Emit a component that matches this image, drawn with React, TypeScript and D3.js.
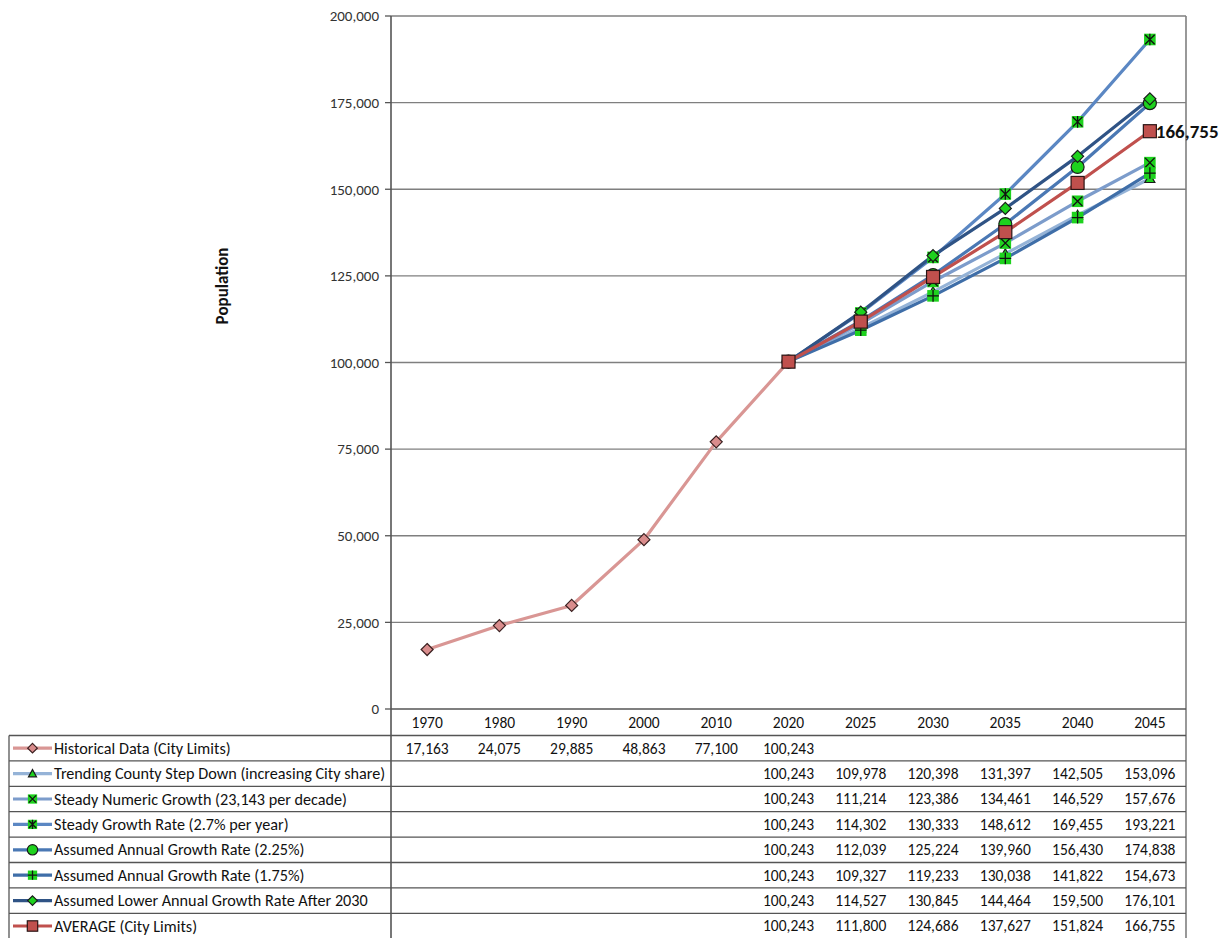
import React from 'react';
import * as d3 from 'd3';

const years = ['1970', '1980', '1990', '2000', '2010', '2020', '2025', '2030', '2035', '2040', '2045'];
const yTicks = [0, 25000, 50000, 75000, 100000, 125000, 150000, 175000, 200000];

const historical = [17163, 24075, 29885, 48863, 77100, 100243];
const trending = [100243, 109978, 120398, 131397, 142505, 153096];
const numeric = [100243, 111214, 123386, 134461, 146529, 157676];
const steadyRate = [100243, 114302, 130333, 148612, 169455, 193221];
const rate225 = [100243, 112039, 125224, 139960, 156430, 174838];
const rate175 = [100243, 109327, 119233, 130038, 141822, 154673];
const lowerRate = [100243, 114527, 130845, 144464, 159500, 176101];
const average = [100243, 111800, 124686, 137627, 151824, 166755];

type Series = { name: string; values: number[]; start: number; color: string; marker: string };

const series: Series[] = [
  { name: 'Historical Data (City Limits)', values: historical, start: 0, color: '#D99694', marker: 'histDiamond' },
  { name: 'Trending County Step Down (increasing City share)', values: trending, start: 5, color: '#95B3D7', marker: 'triangle' },
  { name: 'Steady Numeric Growth (23,143 per decade)', values: numeric, start: 5, color: '#7C9CCB', marker: 'x' },
  { name: 'Steady Growth Rate (2.7% per year)', values: steadyRate, start: 5, color: '#5B87C3', marker: 'star' },
  { name: 'Assumed Annual Growth Rate (2.25%)', values: rate225, start: 5, color: '#4A78B4', marker: 'circle' },
  { name: 'Assumed Annual Growth Rate (1.75%)', values: rate175, start: 5, color: '#3F6EA8', marker: 'plus' },
  { name: 'Assumed Lower Annual Growth Rate After 2030', values: lowerRate, start: 5, color: '#2F5385', marker: 'diamond' },
  { name: 'AVERAGE (City Limits)', values: average, start: 5, color: '#C0504D', marker: 'square' },
];

const W = 1229;
const H = 938;
const plotLeft = 391;
const plotRight = 1186;
const plotTop = 16;
const plotBottom = 709;
const tableLeft = 9;
const headerBottom = 735.5;
const rowH = 25.4;

const GREEN = '#1ED21E';

function Marker({ type, x, y, k = 1 }: { type: string; x: number; y: number; k?: number }) {
  const s = 5.8 * k;
  const dm = 6 * k;
  const diamond = `M${x},${y - dm}L${x + dm},${y}L${x},${y + dm}L${x - dm},${y}Z`;
  switch (type) {
    case 'histDiamond':
      return <path d={diamond} fill="#D98C8C" stroke="#3a2020" strokeWidth={1.2} />;
    case 'diamond':
      return <path d={diamond} fill={GREEN} stroke="#1a1a1a" strokeWidth={1.2} />;
    case 'triangle': {
      const t = 5 * k;
      return <path d={`M${x},${y - t}L${x + t},${y + t * 0.8}L${x - t},${y + t * 0.8}Z`} fill={GREEN} stroke="#1a1a1a" strokeWidth={1.2} />;
    }
    case 'circle':
      return <circle cx={x} cy={y} r={6.5 * k} fill={GREEN} stroke="#1a1a1a" strokeWidth={1.2} />;
    case 'square':
      return <rect x={x - 6.5 * k} y={y - 6.5 * k} width={13 * k} height={13 * k} fill="#C0504D" stroke="#2a1515" strokeWidth={1.2} />;
    case 'x':
      return (
        <g>
          <rect x={x - s} y={y - s} width={2 * s} height={2 * s} fill={GREEN} />
          <path d={`M${x - s + 1},${y - s + 1}L${x + s - 1},${y + s - 1}M${x - s + 1},${y + s - 1}L${x + s - 1},${y - s + 1}`} stroke="#111" strokeWidth={1.3} />
        </g>
      );
    case 'star':
      return (
        <g>
          <rect x={x - s} y={y - s} width={2 * s} height={2 * s} fill={GREEN} />
          <path d={`M${x - s + 1},${y - s + 1}L${x + s - 1},${y + s - 1}M${x - s + 1},${y + s - 1}L${x + s - 1},${y - s + 1}M${x},${y - s}L${x},${y + s}`} stroke="#111" strokeWidth={1.3} />
        </g>
      );
    case 'plus':
      return (
        <g>
          <rect x={x - s} y={y - s} width={2 * s} height={2 * s} fill={GREEN} />
          <path d={`M${x - s},${y}L${x + s},${y}M${x},${y - s}L${x},${y + s}`} stroke="#111" strokeWidth={1.3} />
        </g>
      );
    default:
      return null;
  }
}

export default function App() {
  const x = d3.scaleBand<string>().domain(years).range([plotLeft, plotRight]);
  const cx = (yr: string) => (x(yr) ?? 0) + x.bandwidth() / 2;
  const y = d3.scaleLinear().domain([0, 200000]).range([plotBottom, plotTop]);
  const fmt = d3.format(',');

  const lineGen = d3
    .line<[string, number]>()
    .x((d) => cx(d[0]))
    .y((d) => y(d[1]));

  const pts = (s: Series) => s.values.map((v, i) => [years[s.start + i], v] as [string, number]);

  const font = 'Carlito, Calibri, "Liberation Sans", Arial, sans-serif';

  const rowTop = (i: number) => headerBottom + i * rowH;
  const last = average[average.length - 1];

  return (
    <svg width={W} height={H} style={{ position: 'absolute', left: 0, top: 0, background: '#fff' }} fontFamily={font}>
      <rect x={0} y={0} width={W} height={H} fill="#fff" />
      {/* gridlines */}
      {yTicks.map((t) => (
        <g key={t}>
          {t > 0 && <line x1={plotLeft} x2={plotRight} y1={y(t)} y2={y(t)} stroke="#7f7f7f" strokeWidth={1.3} />}
          <line x1={plotLeft - 6} x2={plotLeft} y1={y(t)} y2={y(t)} stroke="#555" strokeWidth={1.3} />
          <text x={plotLeft - 12} y={y(t)} dy="0.35em" textAnchor="end" fontSize={15} fill="#333">
            {fmt(t)}
          </text>
        </g>
      ))}
      {/* right border of plot */}
      <line x1={plotRight} x2={plotRight} y1={plotTop} y2={H} stroke="#7f7f7f" strokeWidth={1.6} />
      {/* y axis line continues into table */}
      <line x1={plotLeft} x2={plotLeft} y1={plotTop} y2={H} stroke="#555" strokeWidth={1.6} />
      {/* x axis line */}
      <line x1={plotLeft} x2={plotRight} y1={plotBottom} y2={plotBottom} stroke="#555" strokeWidth={1.6} />

      {/* y axis title */}
      <text transform={`translate(${228},${286}) rotate(-90)`} textAnchor="middle" fontSize={17} fontWeight="bold" fill="#111">
        Population
      </text>

      {/* lines */}
      {series.map((s) => (
        <path key={s.name} d={lineGen(pts(s)) ?? ''} fill="none" stroke={s.color} strokeWidth={3.2} strokeLinejoin="round" />
      ))}
      {/* markers */}
      {series.map((s) => (
        <g key={s.name + 'm'}>
          {pts(s).map((p) => (
            <Marker key={p[0]} type={s.marker} x={cx(p[0])} y={y(p[1])} />
          ))}
        </g>
      ))}
      {/* data label */}
      <text x={cx('2045') + 6} y={y(last)} dy="0.35em" fontSize={19} fontWeight="bold" fill="#111">
        {fmt(last)}
      </text>

      {/* table */}
      {years.map((yr) => (
        <text key={yr} x={cx(yr)} y={(plotBottom + headerBottom) / 2} dy="0.35em" textAnchor="middle" fontSize={15.5} fill="#111">
          {yr}
        </text>
      ))}
      {series.map((s, i) => (
        <line key={'hl' + i} x1={tableLeft} x2={plotRight} y1={rowTop(i)} y2={rowTop(i)} stroke="#555" strokeWidth={1.3} />
      ))}
      <line x1={tableLeft} x2={tableLeft} y1={headerBottom} y2={H} stroke="#555" strokeWidth={1.3} />
      {series.map((s, i) => {
        const cy = rowTop(i) + rowH / 2;
        return (
          <g key={'row' + i}>
            <line x1={13} x2={52} y1={cy} y2={cy} stroke={s.color} strokeWidth={3.2} />
            <Marker type={s.marker} x={32.5} y={cy} k={0.8} />
            <text x={54} y={cy} dy="0.35em" fontSize={16.2} fill="#111">
              {s.name}
            </text>
            {s.values.map((v, j) => (
              <text key={j} x={cx(years[s.start + j])} y={cy} dy="0.35em" textAnchor="middle" fontSize={15.5} fill="#111">
                {fmt(v)}
              </text>
            ))}
          </g>
        );
      })}
    </svg>
  );
}
